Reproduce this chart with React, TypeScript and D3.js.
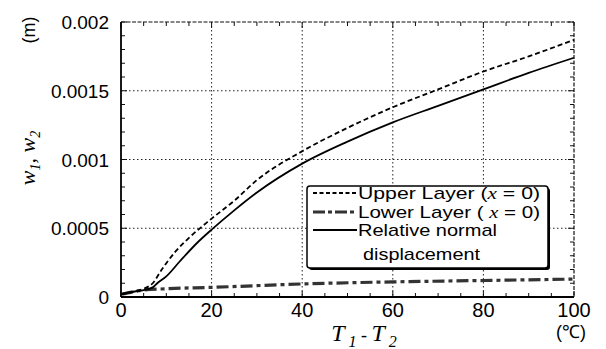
import React from "react";
import * as d3 from "d3";

const xTicks = [0, 20, 40, 60, 80, 100];
const yTicks = [0, 0.0005, 0.001, 0.0015, 0.002];
const yTickLabels = ["0", "0.0005", "0.001", "0.0015", "0.002"];

const upperT = [0, 3, 5, 7, 9, 12, 15, 20, 25, 30, 40, 50, 60, 70, 80, 90, 100];
const upperW = [0.00002, 0.00004, 0.00006, 0.0001, 0.0002, 0.00033, 0.00043, 0.00057, 0.0007, 0.00085, 0.00106, 0.00123, 0.00138, 0.00151, 0.00164, 0.00175, 0.00187];

const relT = [0, 3, 5, 7, 8, 10, 13, 17, 20, 25, 30, 40, 50, 60, 70, 80, 90, 100];
const relW = [0.00002, 0.00004, 0.00005, 0.00007, 0.0001, 0.00015, 0.00026, 0.0004, 0.00049, 0.00063, 0.00076, 0.00097, 0.00113, 0.00127, 0.00139, 0.00151, 0.00163, 0.00174];

const lowerT = [0, 5, 10, 20, 40, 60, 80, 100];
const lowerW = [0.00002, 0.00005, 0.00006, 0.00007, 0.000095, 0.00011, 0.00012, 0.00013];

export default function App() {
  const W = 606, H = 349;
  const L = 121, R = 574, T = 22, B = 297;
  const x = d3.scaleLinear().domain([0, 100]).range([L, R]);
  const y = d3.scaleLinear().domain([0, 0.002]).range([B, T]);
  const line = d3.line<[number, number]>().x(d => x(d[0])).y(d => y(d[1])).curve(d3.curveMonotoneX);
  const up = line(upperT.map((t, i) => [t, upperW[i]]))!;
  const rel = line(relT.map((t, i) => [t, relW[i]]))!;
  const low = line(lowerT.map((t, i) => [t, lowerW[i]]))!;
  const xMinor = d3.range(0, 101, 5);
  const yMinor = d3.range(0, 21).map(i => i * 0.0001);
  const font = "'Liberation Sans', Arial, Helvetica, sans-serif";
  const serif = "'Liberation Serif', 'Times New Roman', serif";
  const lx = 307, ly = 186, lw = 241, lh = 82;
  return (
    <svg width={W} height={H} style={{ position: "absolute", left: 0, top: 0, background: "#fff" }}>
      <rect width={W} height={H} fill="#fff" />
      {/* grid */}
      {xTicks.slice(1, -1).map(t => (
        <line key={"gx" + t} x1={x(t)} x2={x(t)} y1={T} y2={B} stroke="#222" strokeWidth={1} strokeDasharray="1.5 2.5" />
      ))}
      {yTicks.slice(1, -1).map(t => (
        <line key={"gy" + t} x1={L} x2={R} y1={y(t)} y2={y(t)} stroke="#222" strokeWidth={1} strokeDasharray="1.5 2.5" />
      ))}
      {/* top & right frame */}
      <line x1={L} x2={R} y1={T} y2={T} stroke="#111" strokeWidth={1.2} strokeDasharray="4 1.5" />
      <line x1={R} x2={R} y1={T} y2={B} stroke="#111" strokeWidth={1.2} strokeDasharray="4 1.5" />
      {/* ticks */}
      {xMinor.map(t => {
        const major = t % 20 === 0;
        const len = major ? 6 : 4;
        return (
          <g key={"xt" + t}>
            <line x1={x(t)} x2={x(t)} y1={B} y2={B - len} stroke="#111" strokeWidth={1} />
            <line x1={x(t)} x2={x(t)} y1={T} y2={T + len} stroke="#111" strokeWidth={1} />
          </g>
        );
      })}
      {yMinor.map((t, i) => {
        const major = i % 5 === 0;
        const len = major ? 6 : 4;
        return (
          <g key={"yt" + i}>
            <line x1={L} x2={L + len} y1={y(t)} y2={y(t)} stroke="#111" strokeWidth={1} />
            <line x1={R} x2={R - len} y1={y(t)} y2={y(t)} stroke="#111" strokeWidth={1} />
          </g>
        );
      })}
      {/* left & bottom axes */}
      <line x1={L} x2={L} y1={T} y2={B} stroke="#000" strokeWidth={1.8} />
      <line x1={L} x2={R} y1={B} y2={B} stroke="#000" strokeWidth={1.8} />
      {/* curves */}
      <path d={low} fill="none" stroke="#333" strokeWidth={3.2} strokeDasharray="12 4 4 4" />
      <path d={rel} fill="none" stroke="#000" strokeWidth={1.8} />
      <path d={up} fill="none" stroke="#000" strokeWidth={1.8} strokeDasharray="5 3" />
      {/* tick labels */}
      {xTicks.map(t => (
        <text key={"xl" + t} x={x(t)} y={317} textAnchor="middle" fontFamily={font} fontSize={20} fill="#000">{t}</text>
      ))}
      {yTicks.map((t, i) => (
        <text key={"yl" + i} x={109} y={y(t) + 7} textAnchor="end" fontFamily={font} fontSize={19} fill="#000">{yTickLabels[i]}</text>
      ))}
      {/* axis titles */}
      <text transform="translate(35,158) rotate(-90)" textAnchor="middle" fontFamily={serif} fontStyle="italic" fontSize={22} fill="#000">
        w<tspan fontSize={14} dy={5}>1</tspan><tspan dy={-5}>, w</tspan><tspan fontSize={14} dy={5}>2</tspan>
      </text>
      <text transform="translate(35,30) rotate(-90)" textAnchor="middle" fontFamily={font} fontSize={18} fill="#000">(m)</text>
      <text x={364} y={341} textAnchor="middle" fontFamily={serif} fontStyle="italic" fontSize={24} fill="#000">
        T<tspan fontSize={16} dy={6}> 1</tspan><tspan dy={-6} fontStyle="normal" fontSize={18}> - </tspan>T<tspan fontSize={16} dy={6}> 2</tspan>
      </text>
      <text x={571} y={338} textAnchor="middle" fontFamily={font} fontSize={18} fill="#000">(℃)</text>
      {/* legend */}
      <rect x={lx + 2} y={ly + 2} width={lw} height={lh} rx={3} fill="#000" />
      <rect x={lx} y={ly} width={lw} height={lh} rx={3} fill="#fff" stroke="#000" strokeWidth={1.5} />
      <line x1={313} x2={357} y1={193} y2={193} stroke="#000" strokeWidth={1.8} strokeDasharray="4 2.5" />
      <line x1={313} x2={357} y1={212} y2={212} stroke="#333" strokeWidth={3.2} strokeDasharray="12 3 4 3" />
      <line x1={313} x2={357} y1={230} y2={230} stroke="#000" strokeWidth={1.8} />
      <text x={358} y={199} fontFamily={font} fontSize={17} fill="#000" textLength={182} lengthAdjust="spacingAndGlyphs">
        Upper Layer  (<tspan fontFamily={serif} fontStyle="italic">x</tspan> = 0)
      </text>
      <text x={358} y={218} fontFamily={font} fontSize={17} fill="#000" textLength={182} lengthAdjust="spacingAndGlyphs">
        Lower Layer  ( <tspan fontFamily={serif} fontStyle="italic">x</tspan> = 0)
      </text>
      <text x={358} y={236} fontFamily={font} fontSize={17} fill="#000" textLength={139} lengthAdjust="spacingAndGlyphs">Relative normal</text>
      <text x={363} y={260} fontFamily={font} fontSize={17} fill="#000" textLength={117} lengthAdjust="spacingAndGlyphs">displacement</text>
    </svg>
  );
}
